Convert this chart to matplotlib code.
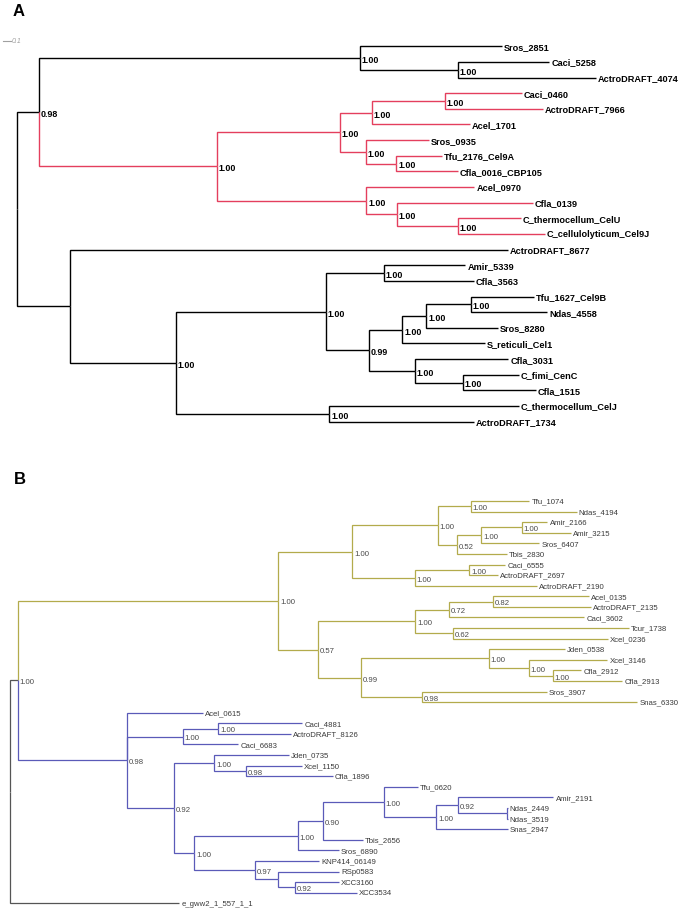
"""Two phylogenetic trees (panels A and B)."""
import matplotlib
matplotlib.use('Agg')
import matplotlib.pyplot as plt

plt.rcParams['font.family'] = ['Liberation Sans', 'DejaVu Sans']

# ---- Panel A: nodes in preorder (name, parent index, depth from root, support)
A_names = ['', '', '', 'Sros_2851', '', 'Caci_5258', 'ActroDRAFT_4074',
           '', '', '', '', 'Caci_0460', 'ActroDRAFT_7966', 'Acel_1701',
           '', 'Sros_0935', '', 'Tfu_2176_Cel9A', 'Cfla_0016_CBP105',
           '', 'Acel_0970', '', 'Cfla_0139', '', 'C_thermocellum_CelU',
           'C_cellulolyticum_Cel9J',
           '', 'ActroDRAFT_8677', '', '', '', 'Amir_5339', 'Cfla_3563',
           '', '', '', '', 'Tfu_1627_Cel9B', 'Ndas_4558', 'Sros_8280',
           'S_reticuli_Cel1', '', 'Cfla_3031', '', 'C_fimi_CenC', 'Cfla_1515',
           '', 'C_thermocellum_CelJ', 'ActroDRAFT_1734']
A_parent = [-1, 0, 1, 2, 2, 4, 4,
            1, 7, 8, 9, 10, 10, 9,
            8, 14, 14, 16, 16,
            7, 19, 19, 21, 21, 23, 23,
            0, 26, 26, 28, 29, 30, 30,
            29, 33, 34, 35, 36, 36, 35, 34, 33, 41, 41, 43, 43,
            28, 46, 46]
A_depth = [0.00, 0.29, 4.56, 6.46, 5.87, 7.09, 7.71,
           2.66, 4.30, 4.72, 5.70, 6.72, 7.00, 6.03,
           4.64, 5.48, 5.05, 5.66, 5.87,
           4.65, 6.09, 5.06, 6.87, 5.87, 6.71, 7.03,
           0.70, 6.54, 2.11, 4.11, 4.88, 5.97, 6.08,
           4.68, 5.13, 5.45, 6.04, 6.88, 7.06, 6.40, 6.23, 5.30, 6.54, 5.94,
           6.68, 6.91,
           4.16, 6.68, 6.08]
A_support = ['', '0.98', '1.00', '', '1.00', '', '',
             '1.00', '1.00', '1.00', '1.00', '', '', '',
             '1.00', '', '1.00', '', '',
             '1.00', '', '1.00', '', '1.00', '', '',
             '', '', '1.00', '1.00', '1.00', '', '',
             '0.99', '1.00', '1.00', '1.00', '', '', '', '', '1.00', '', '1.00',
             '', '',
             '1.00', '', '']
A_clades = {7: '#e43f5d'}

# ---- Panel B
B_names = ['', '', '', '', '', '', 'Tfu_1074', 'Ndas_4194', '', '', '',
           'Amir_2166', 'Amir_3215', 'Sros_6407', 'Tbis_2830', '', '',
           'Caci_6555', 'ActroDRAFT_2697', 'ActroDRAFT_2190',
           '', '', '', '', 'Acel_0135', 'ActroDRAFT_2135', 'Caci_3602',
           '', 'Tcur_1738', 'Xcel_0236', '', '', 'Jden_0538', '', 'Xcel_3146',
           '', 'Cfla_2912', 'Cfla_2913', '', 'Sros_3907', 'Snas_6330',
           '', 'Acel_0615', '', '', 'Caci_4881', 'ActroDRAFT_8126',
           'Caci_6683', '', '', 'Jden_0735', '', 'Xcel_1150', 'Cfla_1896',
           '', '', '', '', 'Tfu_0620', '', '', 'Amir_2191', '', 'Ndas_2449',
           'Ndas_3519', 'Snas_2947', 'Tbis_2656', 'Sros_6890', '',
           'KNP414_06149', '', 'RSp0583', '', 'XCC3160', 'XCC3534',
           'e_gww2_1_557_1_1']
B_parent = [-1, 0, 1, 2, 3, 4, 5, 5, 4, 8, 9,
            10, 10, 9, 8, 3, 15,
            16, 16, 15,
            2, 20, 21, 22, 23, 23, 22,
            21, 27, 27, 20, 30, 31, 31, 33,
            33, 35, 35, 30, 38, 38,
            1, 41, 41, 43, 44, 44,
            43, 41, 48, 49, 49, 51, 51,
            48, 54, 55, 56, 57, 57, 59, 60, 60, 62,
            62, 59, 56, 55, 54,
            68, 68, 70, 70, 72, 72,
            0]
B_depth = [0.00, 0.11, 3.58, 4.57, 5.71, 6.15, 6.93, 7.56, 5.96, 6.29, 6.83,
           7.17, 7.48, 7.06, 6.63, 5.40, 6.13,
           6.61, 6.51, 7.03,
           4.11, 5.41, 5.86, 6.45, 7.72, 7.75, 7.66,
           5.91, 8.26, 7.98, 4.69, 6.39, 7.40, 6.92, 7.97,
           7.24, 7.62, 8.17, 5.50, 7.16, 8.37,
           1.56, 2.58, 2.31, 2.78, 3.90, 3.75,
           3.05, 2.19, 2.73, 3.72, 3.15, 3.90, 4.31,
           2.46, 3.84, 4.18, 4.99, 5.44, 5.69, 5.98, 7.25, 6.63, 6.64,
           6.64, 6.64, 4.71, 4.39, 3.27,
           4.13, 3.58, 4.39, 3.81, 4.39, 4.63,
           2.26]
B_support = ['', '1.00', '1.00', '1.00', '1.00', '1.00', '', '', '0.52', '1.00',
             '1.00', '', '', '', '', '1.00', '1.00',
             '', '', '',
             '0.57', '1.00', '0.72', '0.82', '', '', '',
             '0.62', '', '', '0.99', '1.00', '', '1.00', '',
             '1.00', '', '', '0.98', '', '',
             '0.98', '', '1.00', '1.00', '', '',
             '', '0.92', '1.00', '', '0.98', '', '',
             '1.00', '1.00', '0.90', '1.00', '', '1.00', '0.92', '', '', '',
             '', '', '', '', '0.97',
             '', '', '', '0.92', '', '',
             '']
B_clades = {2: '#b3ab4c', 41: '#5a5ab8'}


def draw_tree(ax, names, parent, depth, support, clades, base_color,
              lw, label_kw, support_kw):
    n = len(names)
    children = [[] for _ in range(n)]
    for i, p in enumerate(parent):
        if p >= 0:
            children[p].append(i)
    # leaves get consecutive rows in preorder; internal nodes sit midway
    y = [0.0] * n
    row = 0
    for i in range(n):
        if not children[i]:
            y[i] = row
            row += 1
    for i in reversed(range(n)):
        if children[i]:
            y[i] = (y[children[i][0]] + y[children[i][-1]]) / 2
    # a clade colour is inherited by everything below it
    color = [base_color] * n
    for i in range(n):
        if i in clades:
            color[i] = clades[i]
        elif parent[i] >= 0:
            color[i] = color[parent[i]]
    for i in range(n):
        p = parent[i]
        if p < 0:
            continue
        ax.plot([depth[p], depth[p], depth[i]], [y[p], y[i], y[i]],
                color=color[i], lw=lw, solid_capstyle='butt',
                solid_joinstyle='miter')
        if not children[i]:
            ax.annotate(names[i], (depth[i], y[i]), xytext=(1.6, 0),
                        textcoords='offset points', va='center', ha='left',
                        **label_kw)
    for i in range(n):
        if support[i]:
            ax.annotate(support[i], (depth[i], y[i]), xytext=(1.3, -1.0),
                        textcoords='offset points', va='center', ha='left',
                        **support_kw)
    return y


fig = plt.figure(figsize=(6.86, 9.12), dpi=100)

# panel A occupies the top half, panel B the bottom half
axA = fig.add_axes([0, 0.5, 1, 0.5])
axB = fig.add_axes([0, 0.0, 1, 0.5])

draw_tree(axA, A_names, A_parent, A_depth, A_support, A_clades, 'black',
          1.0, dict(fontsize=6.6, fontweight='bold', color='black'),
          dict(fontsize=6.4, fontweight='bold', color='black'))
draw_tree(axB, B_names, B_parent, B_depth, B_support, B_clades, '#555555',
          0.9, dict(fontsize=5.6, color='#3a3a3a'),
          dict(fontsize=5.6, color='#4a4a4a'))

# scale bar in panel A
axA.plot([-0.19, -0.09], [-0.36, -0.36], color='#a0a0a0', lw=0.8)
axA.text(-0.075, -0.36, '0.1', fontsize=5, color='#a0a0a0',
         style='italic', va='center')

axA.set_xlim(-0.233, 8.913)
axA.set_ylim(26.13, -3.02)
axB.set_xlim(-0.128, 9.019)
axB.set_ylim(38.73, -4.345)
for ax in (axA, axB):
    ax.axis('off')

fig.text(0.018, 0.987, 'A', fontsize=12, fontweight='bold', va='center')
fig.text(0.020, 0.474, 'B', fontsize=12, fontweight='bold', va='center')

fig.savefig('out.png', dpi=100)
plt.close(fig)
